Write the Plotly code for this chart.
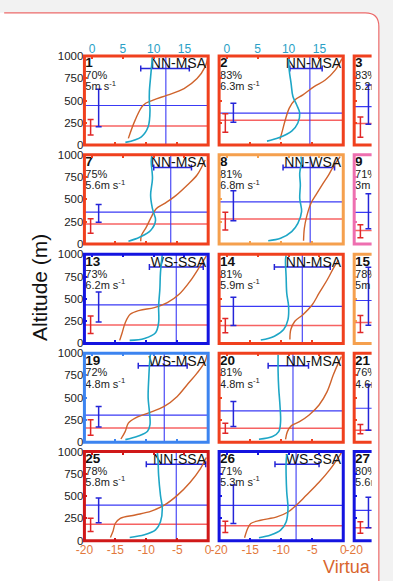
import plotly.graph_objects as go

PAGE_W, PAGE_H = 393, 581
OFF = 0
W, H = PAGE_W - 2 * OFF, PAGE_H - 2 * OFF


def fx(px):
    return (px - OFF) / W


def fy(py):
    return 1 - (py - OFF) / H


# ---------------- data ----------------
panel_ids = [1, 2, 3, 7, 8, 9, 13, 14, 15, 19, 20, 21, 25, 26, 27]
pcts = ["70%", "83%", "83%", "75%", "81%", "71%", "73%", "81%", "78%",
        "72%", "81%", "76%", "78%", "71%", "80%"]
speeds = ["5", "6.3", "5.2", "5.6", "6.8", "3", "6.2", "5.9", "5",
          "4.8", "4.8", "4.6", "5.8", "5.3", "5.6"]
regimes = ["NN-MSA", "NN-MSA", None, "NN-MSA", "NN-WSA", None, "WS-SSA", "NN-MSA", None,
           "WS-MSA", "NN-MSA", None, "NN-SSA", "WS-SSA", None]
border_colors = ["#f0401e", "#f0401e", "#f0401e",
                 "#f0401e", "#f5a04e", "#ee6fb0",
                 "#1414e0", "#f0401e", "#f5a04e",
                 "#3c84f0", "#f0401e", "#f0401e",
                 "#d01818", "#1414e0", "#1414e0"]

# wind speed profiles (top axis), None where not visible
wind_speed = [
    [5.4, 8.0, 9.1, 9.4, 9.3, 9.3, 9.5, 9.8],
    [6.5, 8.4, 10.5, 11.5, 11.8, 11.3, 10.7, 10.4, 10.1, 10.0],
    None,
    [5.9, 7.7, 9.5, 10.3, 9.8, 9.5, 9.8, 9.6, 9.7],
    [6.7, 8.7, 10.5, 11.5, 12.1, 11.8, 11.9, 11.8, 12.1, 12.0],
    None,
    [6.1, 8.5, 10.3, 10.8, 10.8, 11.0, 11.1, 11.4],
    [5.5, 7.7, 9.2, 9.9, 10.0, 9.7, 9.6, 9.5, 9.6],
    None,
    [5.4, 7.4, 9.0, 9.4, 9.3, 9.1, 9.2, 9.4, 9.5],
    [5.2, 7.4, 8.4, 8.7, 8.6, 8.4, 8.3, 8.3],
    None,
    [6.1, 8.5, 10.3, 11.1, 11.4, 11.1, 10.8, 10.7, 10.6],
    [5.2, 7.1, 8.7, 9.6, 9.9, 9.7, 9.6, 9.6, 9.7],
    None,
]
wind_alt = [
    [30, 93, 205, 392, 480, 600, 765, 990],
    [44, 81, 156, 248, 359, 452, 544, 693, 841, 989],
    None,
    [30, 75, 151, 264, 396, 547, 736, 925, 992],
    [37, 64, 139, 232, 363, 513, 663, 794, 925, 981],
    None,
    [34, 56, 120, 232, 419, 607, 794, 1000],
    [37, 81, 156, 267, 415, 563, 748, 933, 989],
    None,
    [30, 67, 123, 198, 347, 496, 720, 944, 1000],
    [34, 64, 120, 232, 419, 607, 794, 981],
    None,
    [37, 66, 122, 214, 362, 509, 731, 915, 989],
    [33, 63, 119, 211, 359, 544, 730, 878, 970],
    None,
]

# virtual temperature profiles (bottom axis)
temp_val = [
    [-12.9, -11.8, -10.5, -8.9, -6.6, -3.9, -1.8, -0.5, -0.1],
    [-10.2, -9.9, -9.4, -8.7, -7.8, -6.5, -4.7, -2.9, -1.3, -0.2],
    None,
    [-10.9, -10.8, -10.0, -9.2, -8.4, -7.1, -5.5, -3.4, -1.8, -0.5],
    [-6.4, -6.27, -5.9, -5.2, -4.4, -3.4, -2.35, -1.6, -0.5],
    None,
    [-14.3, -13.9, -13.4, -12.6, -11.1, -8.7, -6.6, -4.7, -2.9, -1.3, -0.3],
    [-8.6, -8.45, -7.8, -6.5, -5.0, -3.9, -2.6, -1.6, -0.8],
    None,
    [-14.1, -13.4, -12.9, -11.8, -9.7, -7.1, -5.0, -3.4, -1.8, -0.5, -0.2],
    [-9.3, -9.0, -8.35, -7.05, -5.5, -3.9, -2.6, -1.6, -0.8, -0.3],
    None,
    [-15.8, -15.4, -15.0, -14.2, -11.8, -9.2, -7.1, -5.0, -2.9, -1.3, -0.3],
    [-15.9, -15.4, -14.9, -13.3, -10.7, -8.9, -7.6, -6.0, -3.9, -2.1, -0.8, -0.3],
    None,
]
temp_alt = [
    [75, 280, 448, 504, 560, 634, 746, 877, 970],
    [63, 137, 267, 415, 507, 563, 656, 730, 841, 970],
    None,
    [30, 94, 189, 302, 396, 453, 528, 660, 774, 943],
    [37, 176, 307, 457, 551, 663, 775, 869, 981],
    None,
    [34, 120, 232, 326, 371, 401, 457, 551, 700, 869, 981],
    [44, 156, 248, 322, 433, 563, 711, 841, 933],
    None,
    [37, 123, 216, 272, 328, 403, 515, 646, 776, 907, 981],
    [34, 120, 187, 232, 307, 419, 569, 757, 888, 963],
    None,
    [37, 103, 196, 251, 288, 332, 399, 509, 657, 804, 934],
    [33, 137, 193, 230, 267, 322, 396, 507, 656, 804, 933, 989],
    None,
]

# mean (vertical blue line) and its horizontal range
mean_x = [-6.84, -5.38, None, -6.05, -5.33, None, -5.16, -6.6, None, -7.1, -8.1, None, -5.16, -7.6, None]
mean_lo = [-10.9, -8.6, None, -8.8, -9.7, None, -9.5, -11.1, None, -11.3, -12.1, None, -10.0, -11.0, None]
mean_hi = [-3.05, -3.4, None, -2.7, -1.4, None, -0.8, -2.1, None, -3.4, -5.6, None, -0.4, -3.9, None]

# blue heights (line + range)
blue_h = [444, 359, 432, 358, 472, 355, 431, 415, 481, 306, 352, 382, 399, 396, 341]
blue_lo = [205, 255, 234, 245, 262, 172, 240, 200, 203, 172, 176, 134, 203, 193, 146]
blue_hi = [627, 470, 674, 442, 596, 564, 577, 519, 855, 403, 457, 646, 480, 626, 487]
# red heights (line + range)
red_h = [213, 278, 242, 223, 281, 150, 206, 200, 233, 160, 157, 134, 185, 167, 146]
red_lo = [112, 144, 88, 121, 157, 69, 112, 119, 123, 78, 101, 97, 103, 93, 85]
red_hi = [287, 352, 315, 283, 356, 216, 307, 278, 313, 254, 213, 200, 251, 219, 212]

t_ticks = [-20, -15, -10, -5, 0]
s_ticks = [0, 5, 10, 15]
alt_ticks = [0, 250, 500, 750, 1000]

# ---------------- layout geometry (page pixels) ----------------
COL_L = [78, 217.3, 357]
COL_R = [206, 345.7, 375]
ROW_T = [51, 152, 253.5, 354.5, 455]
ROW_B = [142, 243, 344.5, 445.5, 546]
FULL_W = 128.3
T0, T1 = -20, 0
S0, S1 = -1.25, 18.85

FONT = "Liberation Sans, Arial, sans-serif"
CYAN = "#1ea6c6"
ORANGE = "#cf632c"
BLUE = "#3a3af5"
BLUE_BAR = "#2525d8"
RED_LINE = "rgba(245,70,70,0.85)"
RED_BAR = "#e02828"
TOP_TICK = "#2a9fc6"
BOT_TICK = "#e2783c"
BG = "#f2f2f2"
CARD_LINE = "#ec6a6a"

fig = go.Figure()
layout = dict(
    width=W, height=H,
    margin=dict(l=0, r=0, t=0, b=0),
    paper_bgcolor="white",
    plot_bgcolor="white",
    showlegend=False,
    font=dict(family=FONT, color="#111"),
)
shapes = []

# card (white with red border, rounded top-right corner) on light grey
CARD_T, CARD_R, RR = 7, 382.5, 14
shapes.append(dict(type="rect", xref="paper", yref="paper", x0=fx(CARD_R), x1=1.1,
                   y0=-0.1, y1=1.1, fillcolor=BG, line=dict(width=0), layer="below"))
shapes.append(dict(type="rect", xref="paper", yref="paper", x0=-0.1, x1=1.1,
                   y0=fy(CARD_T), y1=1.1, fillcolor=BG, line=dict(width=0), layer="below"))
shapes.append(dict(type="path", xref="paper", yref="paper",
                   path=(f"M {fx(CARD_R - RR)},{fy(CARD_T)} Q {fx(CARD_R)},{fy(CARD_T)} "
                         f"{fx(CARD_R)},{fy(CARD_T + RR)} L {fx(CARD_R)},{fy(CARD_T)} Z"),
                   fillcolor=BG, line=dict(width=0), layer="below"))

for k, pid in enumerate(panel_ids):
    r, c = divmod(k, 3)
    bx = k + 1          # bottom x axis id
    tx = k + 16         # top x axis id
    yy = k + 1
    xb_name = "x" if bx == 1 else f"x{bx}"
    xt_name = f"x{tx}"
    y_name = "y" if yy == 1 else f"y{yy}"
    frac = 1.0 if c < 2 else (COL_R[c] - COL_L[c]) / FULL_W
    dom_x = [fx(COL_L[c]), fx(COL_R[c])]
    dom_y = [fy(ROW_B[r]), fy(ROW_T[r])]
    bc = border_colors[k]

    layout["xaxis" if bx == 1 else f"xaxis{bx}"] = dict(
        domain=dom_x, anchor=y_name, range=[T0, T0 + (T1 - T0) * frac],
        tickvals=t_ticks, ticktext=[str(v) for v in t_ticks],
        showticklabels=(r == 4), ticks="inside", ticklen=3, tickwidth=2, tickcolor=bc,
        tickfont=dict(size=12, color=BOT_TICK, family=FONT),
        showgrid=False, zeroline=False, showline=False, fixedrange=True)
    layout[f"xaxis{tx}"] = dict(
        domain=dom_x, anchor=y_name, overlaying=xb_name, side="top",
        range=[S0, S0 + (S1 - S0) * frac],
        tickvals=s_ticks, ticktext=[str(v) for v in s_ticks],
        showticklabels=(r == 0), ticks="inside", ticklen=3, tickwidth=2, tickcolor=bc,
        tickfont=dict(size=12, color=TOP_TICK, family=FONT),
        showgrid=False, zeroline=False, showline=False, fixedrange=True)
    layout["yaxis" if yy == 1 else f"yaxis{yy}"] = dict(
        domain=dom_y, anchor=xb_name, range=[0, 1000],
        tickvals=alt_ticks, ticktext=[str(v) for v in alt_ticks],
        showticklabels=(c == 0), ticks="inside", ticklen=3, tickwidth=2, tickcolor=bc,
        tickfont=dict(size=11.5, color="#222", family=FONT),
        showgrid=False, zeroline=False, showline=False, fixedrange=True)

    # horizontal lines
    fig.add_trace(go.Scatter(x=[T0, T1], y=[red_h[k], red_h[k]], mode="lines",
                             line=dict(color=RED_LINE, width=1.5), xaxis=xb_name, yaxis=y_name))
    fig.add_trace(go.Scatter(x=[T0, T1], y=[blue_h[k], blue_h[k]], mode="lines",
                             line=dict(color=BLUE, width=1.2), xaxis=xb_name, yaxis=y_name))
    # vertical mean line and its range
    if mean_x[k] is not None:
        fig.add_trace(go.Scatter(x=[mean_x[k], mean_x[k]], y=[0, 1000], mode="lines",
                                 line=dict(color=BLUE, width=1.1), xaxis=xb_name, yaxis=y_name))
        fig.add_trace(go.Scatter(
            x=[mean_x[k]], y=[858], mode="markers",
            marker=dict(size=1, color="rgba(0,0,0,0)"),
            error_x=dict(type="data", symmetric=False,
                         array=[mean_hi[k] - mean_x[k]], arrayminus=[mean_x[k] - mean_lo[k]],
                         color=BLUE_BAR, thickness=1.5, width=3),
            xaxis=xb_name, yaxis=y_name))
    # vertical ranges
    fig.add_trace(go.Scatter(
        x=[-19.0], y=[red_h[k]], mode="markers", marker=dict(size=1, color="rgba(0,0,0,0)"),
        error_y=dict(type="data", symmetric=False, array=[red_hi[k] - red_h[k]],
                     arrayminus=[red_h[k] - red_lo[k]], color=RED_BAR, thickness=1.5, width=3),
        xaxis=xb_name, yaxis=y_name))
    fig.add_trace(go.Scatter(
        x=[-17.7], y=[blue_h[k]], mode="markers", marker=dict(size=1, color="rgba(0,0,0,0)"),
        error_y=dict(type="data", symmetric=False, array=[blue_hi[k] - blue_h[k]],
                     arrayminus=[blue_h[k] - blue_lo[k]], color=BLUE_BAR, thickness=1.5, width=3),
        xaxis=xb_name, yaxis=y_name))
    # profiles
    if temp_val[k] is not None:
        fig.add_trace(go.Scatter(x=temp_val[k], y=temp_alt[k], mode="lines",
                                 line=dict(color=ORANGE, width=1.4, shape="spline", smoothing=1.0),
                                 xaxis=xb_name, yaxis=y_name))
    if wind_speed[k] is not None:
        fig.add_trace(go.Scatter(x=wind_speed[k], y=wind_alt[k], mode="lines",
                                 line=dict(color=CYAN, width=1.6, shape="spline", smoothing=1.0),
                                 xaxis=xt_name, yaxis=y_name))
    # texts
    fig.add_trace(go.Scatter(x=[-19.85], y=[910], mode="text", text=[f"<b>{pid}</b>"],
                             textposition="middle right", textfont=dict(size=13.5, color="#111", family=FONT),
                             xaxis=xb_name, yaxis=y_name))
    fig.add_trace(go.Scatter(x=[-19.85], y=[770], mode="text", text=[pcts[k]],
                             textposition="middle right", textfont=dict(size=11, color="#222", family=FONT),
                             xaxis=xb_name, yaxis=y_name))
    fig.add_trace(go.Scatter(x=[-19.85], y=[645], mode="text", text=[f"{speeds[k]}m s<sup>-1</sup>"],
                             textposition="middle right", textfont=dict(size=11, color="#222", family=FONT),
                             xaxis=xb_name, yaxis=y_name))
    if regimes[k]:
        fig.add_trace(go.Scatter(x=[-0.35], y=[900], mode="text", text=[regimes[k]],
                                 textposition="middle left", textfont=dict(size=14, color="#111", family=FONT),
                                 xaxis=xb_name, yaxis=y_name))

    # panel border
    x0, x1 = fx(COL_L[c]), fx(COL_R[c])
    y0, y1 = fy(ROW_B[r]), fy(ROW_T[r])
    if c < 2:
        shapes.append(dict(type="rect", xref="paper", yref="paper", x0=x0, x1=x1, y0=y0, y1=y1,
                           line=dict(color=bc, width=3), fillcolor="rgba(0,0,0,0)", layer="above"))
    else:
        shapes.append(dict(type="path", xref="paper", yref="paper",
                           path=f"M {x1},{y1} L {x0},{y1} L {x0},{y0} L {x1},{y0}",
                           line=dict(color=bc, width=3), fillcolor="rgba(0,0,0,0)", layer="above"))

# crop of the third column at the card's inner edge
shapes.append(dict(type="rect", xref="paper", yref="paper", x0=fx(376.5), x1=fx(CARD_R),
                   y0=-0.1, y1=fy(30), fillcolor="white", line=dict(width=0), layer="above"))
shapes.append(dict(type="rect", xref="paper", yref="paper", x0=fx(CARD_R), x1=1.1,
                   y0=-0.1, y1=fy(30), fillcolor=BG, line=dict(width=0), layer="above"))
# card border on top
shapes.append(dict(type="path", xref="paper", yref="paper",
                   path=(f"M {fx(-5)},{fy(CARD_T)} L {fx(CARD_R - RR)},{fy(CARD_T)} "
                         f"Q {fx(CARD_R)},{fy(CARD_T)} {fx(CARD_R)},{fy(CARD_T + RR)} "
                         f"L {fx(CARD_R)},{fy(600)}"),
                   fillcolor="rgba(0,0,0,0)", line=dict(color=CARD_LINE, width=1.2), layer="above"))

layout["shapes"] = shapes
layout["annotations"] = [
    dict(text="Altitude (m)", x=fx(31), y=fy(287), xref="paper", yref="paper",
         xanchor="center", yanchor="middle",
         textangle=-90, showarrow=False, font=dict(size=21, color="#111", family=FONT)),
    dict(text="Virtua", x=fx(376), y=fy(573), xref="paper", yref="paper",
         xanchor="right", yanchor="middle", showarrow=False,
         font=dict(size=18, color="#d9662e", family=FONT)),
]
fig.update_layout(**layout)
fig.write_html("out.html")
